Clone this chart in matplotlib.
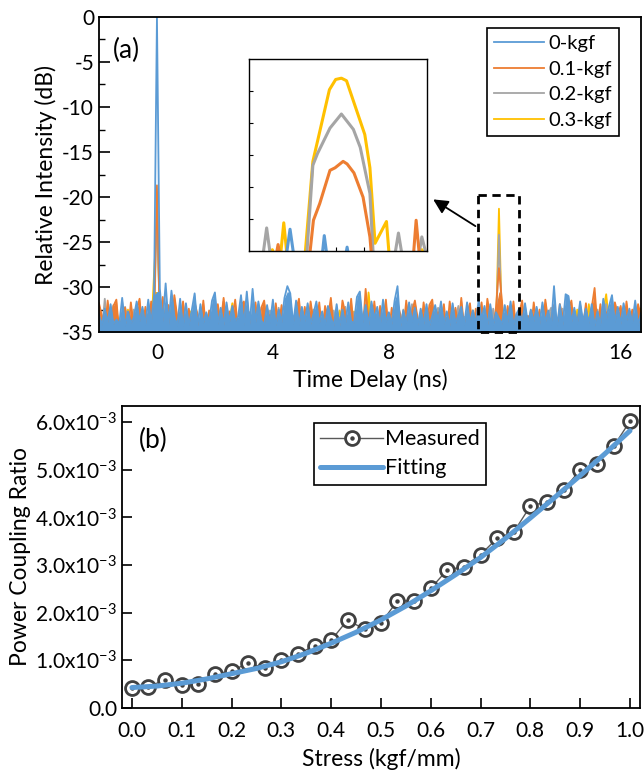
import numpy as np
import matplotlib
matplotlib.use('Agg')
import matplotlib.pyplot as plt
from matplotlib.ticker import MultipleLocator, FuncFormatter
from matplotlib.legend_handler import HandlerTuple

plt.rcParams['font.family'] = ['Lato', 'DejaVu Sans']
plt.rcParams['axes.unicode_minus'] = False
plt.rcParams['mathtext.default'] = 'regular'

# ---------------- (a) data : traces sampled every 0.1 ns, starting at -2.0 ns
t_start = -2.0
t_step = 0.1

db_0kgf = [-33.1, -34.2, -32.4, -33.9, -31.9, -34.1, -33.6, -34.1, -31.2, -34.3,
           -32.7, -34.0, -33.4, -31.6, -33.8, -32.2, -34.2, -31.4, -34.0, -30.9,
           0.0, -30.2, -33.8, -29.6, -34.1, -30.4, -33.2, -34.3, -31.3, -34.4,
           -31.8, -34.2, -32.6, -30.7, -34.3, -31.9, -34.0, -32.8, -33.9, -31.5,
           -30.6, -34.1, -32.3, -34.2, -31.7, -33.9, -32.1, -33.8, -33.3, -30.9,
           -34.2, -30.5, -34.1, -30.2, -33.9, -31.6, -33.7, -34.2, -32.0, -34.0,
           -31.4, -34.3, -32.5, -33.9, -31.2, -29.9, -30.7, -34.1, -31.5, -34.2,
           -32.2, -33.8, -31.8, -34.1, -33.0, -31.6, -34.0, -32.7, -34.2, -32.1,
           -33.4, -34.3, -31.9, -34.3, -32.5, -34.1, -31.7, -33.8, -34.0, -31.1,
           -30.5, -33.9, -32.0, -34.2, -31.6, -33.5, -32.2, -34.3, -31.4, -33.9,
           -32.8, -34.1, -31.5, -29.9, -34.4, -32.6, -34.0, -31.7, -33.9, -32.3,
           -34.2, -32.4, -34.1, -31.9, -34.3, -33.2, -32.0, -33.8, -31.6, -34.1,
           -32.7, -34.3, -31.8, -34.0, -33.1, -32.2, -34.2, -31.7, -33.9, -32.6,
           -34.1, -31.4, -33.6, -32.1, -34.3, -31.9, -34.2, -32.8, -33.5, -34.1,
           -32.0, -33.9, -31.6, -34.2, -33.0, -32.4, -34.0, -31.8, -34.1, -32.5,
           -33.8, -32.2, -34.1, -31.7, -33.9, -32.6, -34.3, -29.9, -34.4, -31.9,
           -34.2, -30.8, -31.0, -33.9, -32.3, -34.1, -31.6, -33.8, -32.4, -34.0,
           -31.9, -34.3, -32.7, -34.2, -31.3, -33.6, -32.1, -30.9, -33.9, -32.2,
           -34.1, -31.8, -33.7, -32.4, -34.0, -31.5, -34.2, -32.9]

db_01kgf = [-31.8, -33.2, -35.0, -31.5, -34.6, -32.1, -31.4, -35.2, -33.0, -32.3,
            -35.1, -31.7, -34.4, -32.6, -31.3, -35.0, -32.2, -34.8, -31.6, -33.5,
            -18.7, -33.9, -31.1, -35.2, -32.0, -34.5, -30.9, -33.3, -35.0, -31.6,
            -34.2, -32.4, -35.1, -31.8, -33.0, -34.7, -31.5, -35.0, -32.6, -33.8,
            -35.2, -31.9, -34.1, -31.2, -35.0, -32.7, -33.4, -31.4, -34.9, -32.0,
            -31.6, -35.1, -32.8, -34.0, -31.7, -35.0, -32.3, -31.5, -34.6, -33.1,
            -35.2, -31.8, -34.3, -32.0, -35.1, -33.6, -31.9, -34.8, -32.5, -31.3,
            -34.7, -32.2, -35.0, -31.6, -33.8, -34.9, -31.7, -35.2, -32.1, -33.4,
            -31.2, -34.6, -33.0, -35.1, -31.5, -32.9, -34.7, -31.3, -35.0, -33.2,
            -32.4, -35.1, -30.2, -33.7, -34.9, -31.6, -35.0, -32.1, -33.9, -31.4,
            -35.2, -32.3, -34.4, -31.8, -33.1, -35.0, -31.5, -34.2, -32.7, -31.5,
            -33.6, -35.1, -31.7, -34.5, -32.0, -31.4, -35.0, -32.8, -34.1, -31.9,
            -35.2, -31.6, -33.9, -32.3, -35.0, -31.2, -34.6, -33.0, -31.8, -35.1,
            -32.4, -34.0, -31.7, -35.2, -31.3, -33.5, -34.8, -32.2, -27.9, -31.4,
            -35.0, -32.1, -34.4, -31.6, -35.1, -32.9, -31.5, -34.7, -33.2, -35.0,
            -31.7, -34.2, -32.5, -35.1, -31.4, -33.8, -34.6, -32.0, -35.2, -31.9,
            -33.3, -34.9, -32.6, -31.5, -35.0, -33.7, -32.2, -34.5, -31.8, -35.1,
            -32.3, -30.1, -34.6, -31.9, -35.0, -32.8, -33.6, -34.9, -31.7, -33.0,
            -32.1, -35.0, -31.6, -34.3, -32.5, -35.1, -31.9, -33.4]

db_02kgf = [-32.6, -34.9, -31.3, -35.1, -33.2, -32.0, -35.0, -33.7, -34.4, -32.2,
            -33.8, -35.2, -32.5, -34.0, -35.1, -32.9, -33.4, -35.0, -32.1, -34.6,
            -20.5, -34.2, -32.8, -35.0, -33.1, -34.7, -32.4, -35.2, -33.6, -32.7,
            -35.0, -33.3, -34.5, -32.2, -35.1, -33.9, -32.6, -34.8, -35.0, -33.0,
            -32.5, -35.2, -33.7, -31.6, -34.9, -33.2, -35.0, -32.8, -34.1, -33.5,
            -35.1, -32.9, -34.3, -35.0, -33.1, -32.4, -35.2, -33.8, -34.6, -32.6,
            -33.5, -35.0, -32.3, -34.8, -33.6, -35.1, -32.7, -34.0, -35.0, -33.2,
            -32.8, -35.1, -33.9, -34.4, -32.5, -35.0, -33.3, -34.7, -32.9, -35.2,
            -34.1, -32.6, -35.0, -33.4, -34.8, -32.2, -35.1, -33.7, -32.8, -34.5,
            -35.0, -33.1, -32.4, -34.9, -35.2, -33.0, -34.3, -32.7, -35.0, -33.6,
            -32.9, -35.1, -34.0, -33.2, -35.0, -32.5, -34.6, -33.8, -31.9, -35.2,
            -34.4, -33.0, -35.1, -32.7, -34.2, -35.0, -33.5, -32.3, -34.9, -33.1,
            -35.0, -32.8, -34.5, -33.6, -32.1, -35.2, -33.3, -34.7, -35.0, -32.6,
            -33.9, -35.1, -32.9, -34.4, -33.2, -35.0, -32.4, -34.8, -24.2, -33.7,
            -35.1, -32.5, -34.0, -35.0, -33.4, -32.8, -35.2, -33.1, -34.6, -32.7,
            -35.0, -33.5, -32.9, -34.8, -35.1, -33.0, -32.3, -34.5, -35.0, -33.6,
            -32.4, -35.2, -33.8, -34.1, -32.6, -35.0, -33.3, -34.9, -32.2, -35.1,
            -33.7, -34.3, -32.5, -35.0, -33.0, -31.9, -35.1, -33.6, -34.7, -32.8,
            -35.0, -33.2, -34.4, -32.7, -35.1, -33.9, -32.3, -34.6]

db_03kgf = [-33.4, -35.0, -32.2, -34.6, -33.0, -35.1, -32.7, -34.2, -35.0, -33.6,
            -32.5, -34.9, -35.1, -33.3, -32.6, -35.0, -34.1, -33.0, -35.2, -28.5,
            -22.5, -32.9, -35.0, -33.7, -34.4, -32.3, -35.1, -33.8, -32.8, -35.0,
            -34.3, -33.1, -32.6, -35.2, -33.9, -34.6, -32.4, -35.0, -33.5, -32.9,
            -35.1, -33.0, -34.7, -32.5, -35.0, -33.8, -31.8, -34.3, -35.2, -33.2,
            -32.8, -35.0, -34.0, -33.4, -35.1, -32.6, -34.8, -31.9, -35.0, -33.7,
            -34.5, -32.9, -35.1, -33.3, -34.2, -35.0, -32.7, -33.9, -34.6, -32.4,
            -35.0, -33.6, -34.3, -32.8, -35.2, -33.1, -34.7, -33.4, -35.0, -32.5,
            -33.9, -35.1, -34.4, -32.6, -33.8, -35.0, -33.2, -34.9, -32.7, -35.2,
            -33.5, -34.1, -35.0, -30.6, -33.6, -34.8, -35.1, -32.9, -34.0, -33.3,
            -35.0, -33.7, -34.5, -32.4, -35.1, -33.0, -34.2, -35.0, -33.6, -32.8,
            -34.7, -35.2, -33.1, -34.0, -32.9, -35.0, -33.8, -34.6, -32.5, -35.1,
            -33.4, -34.3, -35.0, -33.0, -32.7, -34.8, -35.1, -33.5, -34.1, -32.6,
            -35.0, -33.2, -34.6, -33.9, -35.1, -32.8, -33.6, -34.4, -21.3, -34.0,
            -33.0, -35.1, -34.2, -32.9, -35.0, -33.7, -34.5, -33.1, -35.2, -32.6,
            -34.0, -35.0, -33.3, -34.7, -32.8, -35.1, -33.6, -34.3, -35.0, -33.0,
            -32.7, -35.2, -34.1, -33.4, -35.0, -32.5, -34.6, -33.8, -35.1, -31.9,
            -34.4, -33.1, -35.0, -33.7, -32.6, -30.8, -34.2, -35.1, -33.5, -32.9,
            -35.0, -33.6, -34.3, -32.8, -35.1, -33.2, -34.7, -32.4]

# inset (zoom around the 11.8 ns peak)
ins_t_0kgf = [11.648, 11.713, 11.720, 11.727, 11.776, 11.780, 11.785, 11.817, 11.820, 11.823, 11.960]
ins_db_0kgf = [-35.5, -35.5, -33.3, -35.5, -35.5, -33.8, -35.5, -35.5, -34.7, -35.5, -35.5]
ins_t_01kgf = [11.648, 11.695, 11.699, 11.703, 11.754, 11.761, 11.772, 11.790, 11.799, 11.813,
               11.820, 11.832, 11.848, 11.860, 11.863, 11.936, 11.941, 11.947, 11.960]
ins_db_01kgf = [-35.5, -35.5, -34.5, -35.5, -35.5, -32.6, -31.3, -28.7, -28.5, -28.0,
                -28.2, -28.9, -30.8, -33.9, -35.5, -35.5, -32.6, -35.5, -35.5]
ins_t_02kgf = [11.648, 11.672, 11.679, 11.686, 11.749, 11.760, 11.768, 11.790, 11.810, 11.831,
               11.843, 11.860, 11.866, 11.903, 11.910, 11.917, 11.945, 11.951, 11.960]
ins_db_02kgf = [-35.5, -35.5, -33.2, -35.5, -35.5, -28.3, -27.4, -25.4, -24.3, -25.5,
                -26.9, -30.5, -35.5, -35.5, -33.6, -35.5, -35.5, -33.9, -35.5]
ins_t_03kgf = [11.648, 11.683, 11.689, 11.695, 11.703, 11.709, 11.715, 11.746, 11.760, 11.789,
               11.800, 11.810, 11.819, 11.851, 11.860, 11.869, 11.889, 11.894, 11.945, 11.951, 11.960]
ins_db_03kgf = [-35.5, -35.5, -34.9, -35.5, -35.5, -32.8, -35.5, -35.5, -28.0, -22.4,
                -21.6, -21.5, -21.7, -25.9, -28.5, -34.4, -32.7, -35.5, -35.5, -34.9, -35.5]

labels_a = ['0-kgf', '0.1-kgf', '0.2-kgf', '0.3-kgf']
colors_a = ['#5B9BD5', '#ED7D31', '#A5A5A5', '#FFC000']

# ---------------- (b) data
stress = [0.0, 0.033, 0.067, 0.1, 0.133, 0.167, 0.2, 0.233, 0.267, 0.3, 0.333,
          0.367, 0.4, 0.433, 0.467, 0.5, 0.533, 0.567, 0.6, 0.633, 0.667,
          0.7, 0.733, 0.767, 0.8, 0.833, 0.867, 0.9, 0.933, 0.967, 1.0]
pcr_meas = [0.43, 0.45, 0.59, 0.49, 0.50, 0.71, 0.78, 0.94, 0.85, 1.00, 1.13,
            1.31, 1.42, 1.85, 1.65, 1.78, 2.25, 2.25, 2.51, 2.90, 2.97,
            3.22, 3.56, 3.70, 4.24, 4.33, 4.58, 5.00, 5.12, 5.49, 6.02]   # x1e-3
stress_fit = [0.0, 0.05, 0.1, 0.15, 0.2, 0.25, 0.3, 0.35, 0.4, 0.45, 0.5,
              0.55, 0.6, 0.65, 0.7, 0.75, 0.8, 0.85, 0.9, 0.95, 1.0]
pcr_fit = [0.43, 0.46, 0.52, 0.61, 0.72, 0.83, 0.97, 1.15, 1.36, 1.59, 1.85,
           2.14, 2.46, 2.80, 3.16, 3.56, 3.99, 4.43, 4.88, 5.34, 5.82]     # x1e-3

# ---------------- figure
fig = plt.figure(figsize=(6.44, 7.72), dpi=100)

ax1 = fig.add_axes([0.1537, 0.5699, 0.8416, 0.4081])
t = t_start + t_step * np.arange(len(db_0kgf))
series = [db_0kgf, db_01kgf, db_02kgf, db_03kgf]
handles = []
# 0.3-kgf first so that 0-kgf ends on top; the floor under each trace is
# filled in the trace colour to stand in for the dense sampling of the scope
for i, k in enumerate([3, 2, 1, 0]):
    y = np.array(series[k])
    ax1.fill_between(t, np.minimum(y, -30.5), -36, color=colors_a[k], lw=0, zorder=1 + i)
    h, = ax1.plot(t, y, color=colors_a[k], lw=1.3, label=labels_a[k], zorder=1.5 + i)
    handles.append(h)
handles = handles[::-1]
ax1.set_xlim(-2.0, 16.7)
ax1.set_ylim(-35, 0)
ax1.xaxis.set_major_locator(MultipleLocator(4))
ax1.yaxis.set_major_locator(MultipleLocator(5))
ax1.yaxis.set_minor_locator(MultipleLocator(2.5))
ax1.tick_params(direction='in', which='major', length=8, width=1.2, labelsize=15)
ax1.tick_params(direction='in', which='minor', length=4, width=1.0)
ax1.tick_params(axis='x', pad=8)
for s in ax1.spines.values():
    s.set_linewidth(1.3)
    s.set_zorder(8)
ax1.set_xlabel('Time Delay (ns)', fontsize=16.5, labelpad=4)
ax1.set_ylabel('Relative Intensity (dB)', fontsize=16.5, labelpad=4)
ax1.text(0.025, 0.87, '(a)', transform=ax1.transAxes, fontsize=19)
leg1 = ax1.legend(handles=handles, loc='upper right', bbox_to_anchor=(0.959, 0.965),
                  borderaxespad=0, fontsize=14.5, handlelength=2.5, handletextpad=0.2,
                  labelspacing=0.42, borderpad=0.35, fancybox=False, framealpha=1)
leg1.get_frame().set_edgecolor('black')
leg1.get_frame().set_linewidth(1.2)
leg1.set_zorder(10)

# dashed box around the 11.8 ns peak and arrow to the inset
ax1.plot([11.07, 12.48, 12.48, 11.07, 11.07], [-19.8, -19.8, -35, -35, -19.8],
         color='black', lw=2, ls=(0, (3, 2)), clip_on=False, zorder=9)
ax1.annotate('', xy=(9.45, -20.1), xytext=(11.07, -23.4),
             arrowprops=dict(arrowstyle='-|>', color='black', lw=1.3, mutation_scale=22),
             zorder=9)

ax_in = fig.add_axes([0.3866, 0.6749, 0.2764, 0.2487])
ins = [(ins_t_0kgf, ins_db_0kgf), (ins_t_01kgf, ins_db_01kgf),
       (ins_t_02kgf, ins_db_02kgf), (ins_t_03kgf, ins_db_03kgf)]
for k in [3, 2, 1, 0]:
    ax_in.plot(ins[k][0], ins[k][1], color=colors_a[k], lw=2.2)
ax_in.set_xlim(11.648, 11.960)
ax_in.set_ylim(-35, -20)
ax_in.set_xticks([11.75, 11.80, 11.85])
ax_in.set_yticks([-32.5, -30, -27.5, -25, -22.5])
ax_in.tick_params(direction='in', length=3, width=0.8, labelbottom=False, labelleft=False)
for s in ax_in.spines.values():
    s.set_linewidth(1.0)

# ---------------- (b)
ax2 = fig.add_axes([0.1894, 0.0829, 0.8043, 0.3912])
stress_arr = np.array(stress)
meas = np.array(pcr_meas) * 1e-3
l_meas, = ax2.plot(stress_arr, meas, color='#595959', lw=1.0, marker='o', ms=10,
                   mfc='white', mec='#404040', mew=2.0, zorder=2)
l_dot, = ax2.plot(stress_arr, meas, ls='none', marker='o', ms=2.2, color='#404040', zorder=3)
l_fit, = ax2.plot(stress_fit, np.array(pcr_fit) * 1e-3, color='#5B9BD5', lw=3.6,
                  solid_capstyle='round', zorder=4)
ax2.set_xlim(-0.02, 1.02)
ax2.set_ylim(0, 6.34e-3)
ax2.xaxis.set_major_locator(MultipleLocator(0.1))
ax2.yaxis.set_major_locator(MultipleLocator(1e-3))
ax2.xaxis.set_major_formatter(FuncFormatter(lambda v, p: '%.1f' % v))
ax2.yaxis.set_major_formatter(FuncFormatter(
    lambda v, p: '0.0' if abs(v) < 1e-9 else r'$\mathregular{%.1fx10^{-3}}$' % (v * 1e3)))
ax2.tick_params(direction='in', length=7, width=1.2, labelsize=15)
ax2.tick_params(axis='x', pad=9)
for s in ax2.spines.values():
    s.set_linewidth(1.3)
ax2.set_xlabel('Stress (kgf/mm)', fontsize=16.5, labelpad=5)
ax2.set_ylabel('Power Coupling Ratio', fontsize=16.5, labelpad=3)
ax2.text(0.033, 0.86, '(b)', transform=ax2.transAxes, fontsize=19)
leg2 = ax2.legend([(l_meas, l_dot), l_fit], ['Measured', 'Fitting'],
                  handler_map={tuple: HandlerTuple(ndivide=1)},
                  loc='upper right', bbox_to_anchor=(0.703, 0.944), borderaxespad=0,
                  fontsize=15.5, handlelength=2.9, handletextpad=0.1, labelspacing=0.42,
                  borderpad=0.3, fancybox=False, framealpha=1)
leg2.get_frame().set_edgecolor('black')
leg2.get_frame().set_linewidth(1.2)

fig.savefig('out.png', dpi=100)
